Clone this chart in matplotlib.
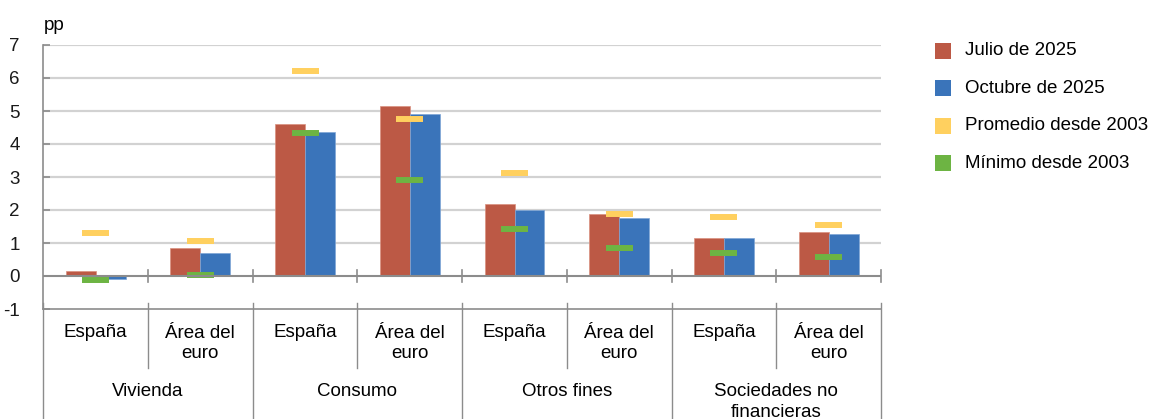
import matplotlib
matplotlib.use("Agg")
import matplotlib.pyplot as plt
import numpy as np
from matplotlib.transforms import blended_transform_factory
from matplotlib.lines import Line2D
from matplotlib.patches import Rectangle

plt.rcParams['font.family'] = ['Liberation Sans', 'DejaVu Sans']

# Data
groups = ["Vivienda", "Consumo", "Otros fines", "Sociedades no\nfinancieras"]
areas = ["España", "Área del\neuro"]
julio_2025 = [0.14, 0.84, 4.61, 5.14, 2.19, 1.88, 1.15, 1.34]
octubre_2025 = [-0.10, 0.70, 4.35, 4.90, 1.99, 1.75, 1.14, 1.27]
promedio_2003 = [1.30, 1.06, 6.21, 4.76, 3.11, 1.87, 1.79, 1.54]
minimo_2003 = [-0.13, 0.03, 4.33, 2.90, 1.42, 0.84, 0.69, 0.58]
series_names = ["Julio de 2025", "Octubre de 2025", "Promedio desde 2003", "Mínimo desde 2003"]
yticks = [-1, 0, 1, 2, 3, 4, 5, 6, 7]

c_red = "#BC5945"
c_blue = "#3A74BA"
c_yellow = "#FFD05F"
c_green = "#6DB443"
grid_c = "#D2D2D2"
axis_c = "#8C8C8C"
fs = 13.5

W, H = 1152, 419
fig = plt.figure(figsize=(W / 100, H / 100), dpi=100)
ax = fig.add_axes([43.3 / W, 1 - 309 / H, (881 - 43.3) / W, (309 - 45) / H])

n = len(julio_2025)
x = np.arange(n)
bw = 0.286
ax.bar(x - bw / 2, julio_2025, bw, color=c_red, edgecolor="#D9907F", linewidth=0.5, zorder=3)
ax.bar(x + bw / 2, octubre_2025, bw, color=c_blue, edgecolor="#7FA6D6", linewidth=0.5, zorder=3)
mw = 0.129
ax.hlines(promedio_2003, x - mw, x + mw, colors=c_yellow, linewidth=4.3, zorder=4)
ax.hlines(minimo_2003, x - mw, x + mw, colors=c_green, linewidth=4.3, zorder=4)

ax.set_xlim(-0.5, n - 0.5)
ax.set_ylim(-1, 7)
ax.set_yticks(yticks)
ax.set_yticklabels([str(v) for v in yticks])
ax.tick_params(axis='y', direction='in', length=5, width=1.2, color=axis_c, pad=17,
               labelsize=fs, labelcolor="#1a1a1a")
ax.set_xticks([])
for s in ["top", "right", "bottom"]:
    ax.spines[s].set_visible(False)
ax.spines["left"].set_color(axis_c)
ax.spines["left"].set_linewidth(1.2)

# horizontal gridlines
for v in yticks:
    if v == 0:
        ax.axhline(0, color=axis_c, lw=1.5, zorder=5)
    elif v == -1:
        ax.axhline(v, color=axis_c, lw=1.2, zorder=2, clip_on=False)
    else:
        ax.axhline(v, color=grid_c, lw=1.6, zorder=1)

# ticks crossing the zero line at category boundaries
for b in np.arange(0.5, n, 1.0):
    ax.plot([b, b], [-0.18, 0.18], color=axis_c, lw=1.2, zorder=5, clip_on=False)

ax.text(0, 1.04, "pp", transform=ax.transAxes, fontsize=fs, ha="left", va="bottom")

# category table below the plot
tr = blended_transform_factory(ax.transData, fig.transFigure)


def fy(py):
    return 1 - py / H


for b in np.arange(-0.5, n + 0.5, 1.0):
    i = int(b + 0.5)
    bottom = 419 if i % 2 == 0 else 368
    fig.add_artist(Line2D([b, b], [fy(303), fy(bottom)], transform=tr, color=axis_c, lw=1.0))

for i in range(n):
    label = areas[i % 2]
    ypx = 332 if "\n" not in label else 343.5
    fig.text(x[i], fy(ypx), label, transform=tr, ha="center", va="center",
             fontsize=fs, linespacing=1.3)

for g, name in enumerate(groups):
    cx = 2 * g + 0.5
    ypx = 402 if "\n" in name else 391
    fig.text(cx, fy(ypx), name, transform=tr, ha="center", va="center",
             fontsize=fs, linespacing=1.3)

# legend
leg_colors = [c_red, c_blue, c_yellow, c_green]
for k, (nm, col) in enumerate(zip(series_names, leg_colors)):
    yc = 50.7 + k * 37.5
    fig.add_artist(Rectangle((935 / W, fy(yc + 8)), 16 / W, 16 / H, transform=fig.transFigure,
                             color=col, lw=0))
    fig.text(965 / W, fy(yc), nm, ha="left", va="center", fontsize=fs)

fig.savefig("out.png", dpi=100)
